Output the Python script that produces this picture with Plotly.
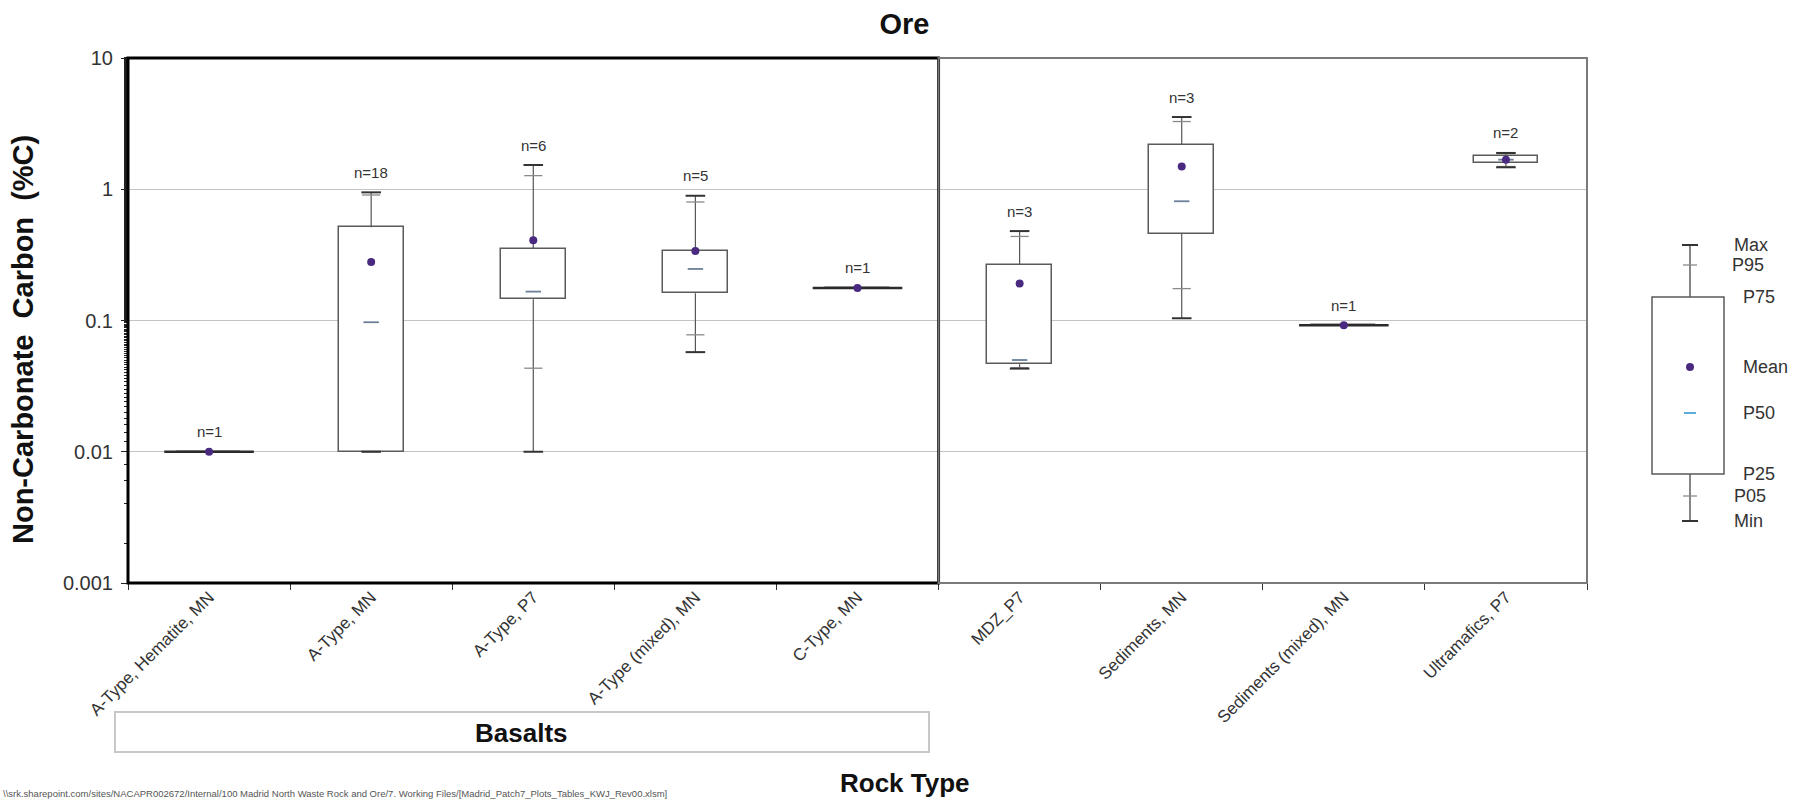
import math
import plotly.graph_objects as go

# ---- data: non-carbonate carbon statistics by rock type (%C) ----
categories = ["A-Type, Hematite, MN", "A-Type, MN", "A-Type, P7", "A-Type (mixed), MN",
              "C-Type, MN", "MDZ_P7", "Sediments, MN", "Sediments (mixed), MN",
              "Ultramafics, P7"]
n_samples = [1, 18, 6, 5, 1, 3, 3, 1, 2]
v_min = [0.01, 0.01, 0.01, 0.0574, 0.177, 0.043, 0.104, 0.092, 1.47]
v_p05 = [0.01, 0.01, 0.0433, 0.0778, 0.177, 0.0437, 0.175, 0.092, 1.49]
v_p25 = [0.01, 0.01, 0.145, 0.161, 0.177, 0.0465, 0.457, 0.092, 1.575]
v_p50 = [0.01, 0.097, 0.166, 0.247, 0.177, 0.05, 0.81, 0.092, 1.68]
v_p75 = [0.01, 0.513, 0.35, 0.34, 0.177, 0.265, 2.18, 0.092, 1.785]
v_p95 = [0.01, 0.904, 1.27, 0.80, 0.177, 0.437, 3.28, 0.092, 1.87]
v_max = [0.01, 0.947, 1.53, 0.892, 0.177, 0.48, 3.55, 0.092, 1.89]
v_mean = [0.01, 0.279, 0.409, 0.339, 0.177, 0.191, 1.49, 0.092, 1.68]
group_basalts = 5  # first five rock types are basalts

y_ticks = [0.001, 0.01, 0.1, 1, 10]
y_ticktext = ["0.001", "0.01", "0.1", "1", "10"]

legend_labels = ["Max", "P95", "P75", "Mean", "P50", "P25", "P05", "Min"]

# ---- page geometry ----
W, H = 1809, 801
M_L, M_R, M_T, M_B = 128, 222, 58, 218
PW = W - M_L - M_R
PH = H - M_T - M_B


def px_x(px):
    return (px - M_L) / PW


def px_y(py):
    return (H - M_B - py) / PH


FONT = "Arial, Liberation Sans, sans-serif"
BOX_W = 0.40
MEAN_C = "#4a2a80"
MED_C = "#6b7f99"

fig = go.Figure()

# whiskers: min -> P25 and P75 -> max
wx, wy = [], []
for c, lo, q1, q3, hi in zip(categories, v_min, v_p25, v_p75, v_max):
    if hi > lo:
        wx += [c, c, None, c, c, None]
        wy += [lo, q1, None, q3, hi, None]
fig.add_trace(go.Scatter(x=wx, y=wy, mode="lines",
                         line=dict(color="#555555", width=1.2),
                         hoverinfo="skip", showlegend=False))

# interquartile boxes
fig.add_trace(go.Bar(x=categories,
                     base=v_p25,
                     y=[q3 - q1 for q1, q3 in zip(v_p25, v_p75)],
                     width=BOX_W,
                     marker=dict(color="white", line=dict(color="#5a5a5a", width=1.5)),
                     hoverinfo="skip", showlegend=False))

# single-sample groups collapse to a flat line
flat = [i for i in range(len(categories)) if v_p75[i] == v_p25[i]]
fig.add_trace(go.Scatter(x=[categories[i] for i in flat],
                         y=[v_p25[i] for i in flat],
                         mode="markers",
                         marker=dict(symbol="line-ew", size=64,
                                     line=dict(color="#2b2b2b", width=2.6)),
                         hoverinfo="skip", showlegend=False))

multi = [i for i in range(len(categories)) if v_max[i] > v_min[i]]

# P05 / P95 ticks
fig.add_trace(go.Scatter(x=[categories[i] for i in multi] * 2,
                         y=[v_p05[i] for i in multi] + [v_p95[i] for i in multi],
                         mode="markers",
                         marker=dict(symbol="line-ew", size=13,
                                     line=dict(color="#8a8a8a", width=1.3)),
                         hoverinfo="skip", showlegend=False))

# min / max caps
fig.add_trace(go.Scatter(x=[categories[i] for i in multi] * 2,
                         y=[v_min[i] for i in multi] + [v_max[i] for i in multi],
                         mode="markers",
                         marker=dict(symbol="line-ew", size=14,
                                     line=dict(color="#333333", width=2)),
                         hoverinfo="skip", showlegend=False))

# medians
fig.add_trace(go.Scatter(x=[categories[i] for i in multi],
                         y=[v_p50[i] for i in multi],
                         mode="markers",
                         marker=dict(symbol="line-ew", size=11,
                                     line=dict(color=MED_C, width=1.8)),
                         hoverinfo="skip", showlegend=False))

# means
fig.add_trace(go.Scatter(x=categories, y=v_mean, mode="markers",
                         marker=dict(symbol="circle", size=8, color=MEAN_C),
                         hoverinfo="skip", showlegend=False))

annotations = []
# sample counts above each maximum
for c, n, hi in zip(categories, n_samples, v_max):
    annotations.append(dict(x=c, y=math.log10(hi), xref="x", yref="y",
                            text=f"n={n}", showarrow=False, yshift=20,
                            xanchor="center", yanchor="middle",
                            font=dict(family=FONT, size=15, color="#333333")))

annotations += [
    dict(x=px_x(23), y=px_y(340), xref="paper", yref="paper",
         xanchor="center", yanchor="middle",
         text="<b>Non-Carbonate  Carbon  (%C)</b>", textangle=-90, showarrow=False,
         font=dict(family=FONT, size=29, color="#111111")),
    dict(x=px_x(905), y=px_y(783), xref="paper", yref="paper",
         xanchor="center", yanchor="middle",
         text="<b>Rock Type</b>", showarrow=False,
         font=dict(family=FONT, size=26, color="#111111")),
    dict(x=px_x(521), y=px_y(733), xref="paper", yref="paper",
         xanchor="center", yanchor="middle",
         text="<b>Basalts</b>", showarrow=False,
         font=dict(family=FONT, size=26, color="#111111")),
    dict(x=px_x(1), y=px_y(793), xref="paper", yref="paper",
         xanchor="left", yanchor="middle",
         text="\\\\srk.sharepoint.com/sites/NACAPR002672/Internal/100 Madrid North Waste Rock and Ore/"
              "7. Working Files/[Madrid_Patch7_Plots_Tables_KWJ_Rev00.xlsm]",
         showarrow=False, font=dict(family=FONT, size=9.5, color="#555555")),
]

shapes = [
    # basalt group frame
    dict(type="rect", xref="paper", yref="paper",
         x0=0, x1=group_basalts / len(categories), y0=0, y1=1,
         line=dict(color="black", width=3)),
    # remaining groups frame
    dict(type="rect", xref="paper", yref="paper",
         x0=group_basalts / len(categories), x1=1, y0=0, y1=1,
         line=dict(color="#7a7a7a", width=2)),
    # basalts label box
    dict(type="rect", xref="paper", yref="paper", layer="below",
         x0=px_x(115), x1=px_x(929), y0=px_y(752), y1=px_y(712),
         line=dict(color="#c8c8c8", width=2), fillcolor="white"),
]

# ---- key explaining the box symbol ----
KX, KB0, KB1 = 1690, 1652, 1724
key_y = dict(Max=245, P95=265, P75=297, Mean=367, P50=413, P25=474, P05=496, Min=521)
ln = dict(color="#444444", width=1.3)
shapes += [
    dict(type="line", xref="paper", yref="paper", x0=px_x(KX), x1=px_x(KX),
         y0=px_y(key_y["Max"]), y1=px_y(key_y["P75"]), line=ln),
    dict(type="line", xref="paper", yref="paper", x0=px_x(KX), x1=px_x(KX),
         y0=px_y(key_y["P25"]), y1=px_y(key_y["Min"]), line=ln),
    dict(type="rect", xref="paper", yref="paper", x0=px_x(KB0), x1=px_x(KB1),
         y0=px_y(key_y["P25"]), y1=px_y(key_y["P75"]),
         line=dict(color="#5a5a5a", width=1.5)),
    dict(type="line", xref="paper", yref="paper", x0=px_x(KX - 8), x1=px_x(KX + 8),
         y0=px_y(key_y["Max"]), y1=px_y(key_y["Max"]), line=dict(color="#333333", width=2)),
    dict(type="line", xref="paper", yref="paper", x0=px_x(KX - 8), x1=px_x(KX + 8),
         y0=px_y(key_y["Min"]), y1=px_y(key_y["Min"]), line=dict(color="#333333", width=2)),
    dict(type="line", xref="paper", yref="paper", x0=px_x(KX - 7), x1=px_x(KX + 7),
         y0=px_y(key_y["P95"]), y1=px_y(key_y["P95"]), line=dict(color="#8a8a8a", width=1.3)),
    dict(type="line", xref="paper", yref="paper", x0=px_x(KX - 7), x1=px_x(KX + 7),
         y0=px_y(key_y["P05"]), y1=px_y(key_y["P05"]), line=dict(color="#8a8a8a", width=1.3)),
    dict(type="line", xref="paper", yref="paper", x0=px_x(KX - 6), x1=px_x(KX + 6),
         y0=px_y(key_y["P50"]), y1=px_y(key_y["P50"]), line=dict(color="#4aa3d8", width=1.8)),
    dict(type="circle", xref="paper", yref="paper", x0=px_x(KX - 4), x1=px_x(KX + 4),
         y0=px_y(key_y["Mean"] + 4), y1=px_y(key_y["Mean"] - 4),
         fillcolor=MEAN_C, line=dict(color=MEAN_C, width=0)),
]
key_label_x = dict(Max=1732, P95=1730, P75=1741, Mean=1741, P50=1741, P25=1741, P05=1732, Min=1732)
for lab in legend_labels:
    annotations.append(dict(x=px_x(key_label_x[lab]), y=px_y(key_y[lab]), xref="paper", yref="paper",
                            xanchor="left", yanchor="middle", text=lab, showarrow=False,
                            font=dict(family=FONT, size=18, color="#333333")))

fig.update_layout(
    width=W, height=H,
    margin=dict(l=M_L, r=M_R, t=M_T, b=M_B, pad=0),
    paper_bgcolor="white", plot_bgcolor="white",
    bargap=0,
    title=dict(text="<b>Ore</b>", x=0.5, xref="container", xanchor="center",
               y=1 - 24 / H, yanchor="middle",
               font=dict(family=FONT, size=29, color="#111111")),
    xaxis=dict(type="category", categoryorder="array", categoryarray=categories,
               range=[-0.5, len(categories) - 0.5],
               tickson="boundaries", ticks="outside", ticklen=6, tickcolor="#333333",
               tickangle=-45, showline=False, showgrid=False, zeroline=False,
               tickfont=dict(family=FONT, size=17, color="#333333")),
    yaxis=dict(type="log", range=[-3, 1], tickvals=y_ticks, ticktext=y_ticktext,
               ticks="outside", ticklen=6, tickcolor="#222222",
               minor=dict(ticks="outside", ticklen=3, tickcolor="#222222", showgrid=False),
               showline=False, showgrid=True, gridcolor="#c4c4c4", gridwidth=1,
               zeroline=False, ticklabelstandoff=4,
               tickfont=dict(family=FONT, size=20, color="#333333")),
    shapes=shapes,
    annotations=annotations,
)

fig.write_html("out.html")
